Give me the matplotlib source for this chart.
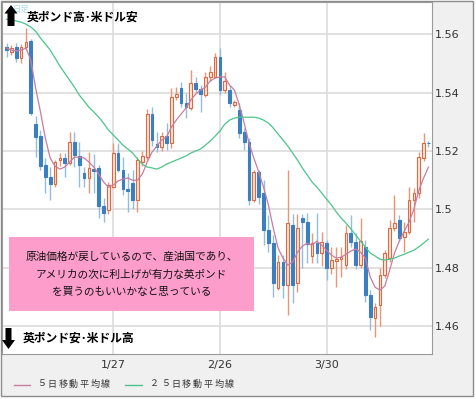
import matplotlib
matplotlib.use("Agg")
import matplotlib.pyplot as plt
from matplotlib.lines import Line2D
from matplotlib.patches import Polygon, Rectangle

W, H = 476, 399

# daily GBP/USD candles (open, high, low, close), one per trading day
opens = [
    1.5556, 1.5540, 1.5556, 1.5519, 1.5556, 1.5577, 1.5292, 1.5251, 1.5151, 1.5110,
    1.5087, 1.5169, 1.5176, 1.5158, 1.5230, 1.5183, 1.5124, 1.5107, 1.5140, 1.5141,
    1.5011, 1.4999, 1.5076, 1.5193, 1.5134, 1.5069, 1.5090, 1.5032, 1.5162, 1.5179,
    1.5327, 1.5224, 1.5213, 1.5251, 1.5227, 1.5385, 1.5416, 1.5364, 1.5347, 1.5433,
    1.5412, 1.5392, 1.5454, 1.5454, 1.5522, 1.5409, 1.5409, 1.5357, 1.5340, 1.5265,
    1.5230, 1.5031, 1.5127, 1.5055, 1.4928, 1.4884, 1.4730, 1.4819, 1.4740, 1.4945,
    1.4748, 1.4972, 1.4955, 1.4839, 1.4884, 1.4850, 1.4884, 1.4798, 1.4823, 1.4829,
    1.4808, 1.4918, 1.4887, 1.4808, 1.4870, 1.4705, 1.4627, 1.4671, 1.4774, 1.4833,
    1.4935, 1.4963, 1.4905, 1.4922, 1.5031, 1.5055, 1.5175, 1.5228,
]
highs = [
    1.5570, 1.5563, 1.5570, 1.5567, 1.5622, 1.5584, 1.5320, 1.5271, 1.5175, 1.5144,
    1.5168, 1.5193, 1.5193, 1.5266, 1.5266, 1.5230, 1.5144, 1.5196, 1.5190, 1.5152,
    1.5040, 1.5093, 1.5226, 1.5226, 1.5179, 1.5124, 1.5134, 1.5179, 1.5200, 1.5343,
    1.5351, 1.5265, 1.5266, 1.5296, 1.5416, 1.5419, 1.5436, 1.5399, 1.5478, 1.5454,
    1.5426, 1.5471, 1.5490, 1.5536, 1.5553, 1.5471, 1.5426, 1.5375, 1.5364, 1.5278,
    1.5244, 1.5134, 1.5134, 1.5100, 1.4980, 1.4911, 1.4843, 1.4843, 1.5134, 1.4983,
    1.4983, 1.4983, 1.4987, 1.4918, 1.4987, 1.4922, 1.4894, 1.4870, 1.4870, 1.4870,
    1.4945, 1.4980, 1.4920, 1.4970, 1.4894, 1.4722, 1.4678, 1.4798, 1.4860, 1.4963,
    1.5050, 1.4980, 1.4956, 1.5076, 1.5072, 1.5196, 1.5261, 1.5235,
]
lows = [
    1.5522, 1.5529, 1.5505, 1.5502, 1.5550, 1.5323, 1.5180, 1.5135, 1.5056, 1.5032,
    1.5076, 1.5150, 1.5110, 1.5151, 1.5145, 1.5075, 1.5076, 1.5055, 1.5055, 1.4970,
    1.4955, 1.4985, 1.5072, 1.5127, 1.5050, 1.4990, 1.5000, 1.4990, 1.5150, 1.5170,
    1.5217, 1.5196, 1.5200, 1.5203, 1.5210, 1.5375, 1.5351, 1.5313, 1.5340, 1.5400,
    1.5333, 1.5385, 1.5440, 1.5450, 1.5392, 1.5400, 1.5351, 1.5350, 1.5244, 1.5203,
    1.5014, 1.5024, 1.5020, 1.4877, 1.4853, 1.4700, 1.4723, 1.4696, 1.4637, 1.4680,
    1.4717, 1.4800, 1.4817, 1.4815, 1.4815, 1.4805, 1.4757, 1.4780, 1.4733, 1.4767,
    1.4795, 1.4870, 1.4795, 1.4800, 1.4681, 1.4585, 1.4562, 1.4600, 1.4765, 1.4820,
    1.4925, 1.4890, 1.4853, 1.4915, 1.4956, 1.5040, 1.5165, 1.5215,
]
closes = [
    1.5546, 1.5553, 1.5519, 1.5556, 1.5574, 1.5330, 1.5249, 1.5148, 1.5110, 1.5087,
    1.5162, 1.5176, 1.5158, 1.5230, 1.5186, 1.5152, 1.5107, 1.5141, 1.5130, 1.5011,
    1.4987, 1.5083, 1.5193, 1.5134, 1.5069, 1.5062, 1.5032, 1.5169, 1.5182, 1.5327,
    1.5237, 1.5213, 1.5251, 1.5227, 1.5385, 1.5395, 1.5364, 1.5351, 1.5433, 1.5412,
    1.5395, 1.5454, 1.5470, 1.5522, 1.5409, 1.5440, 1.5364, 1.5368, 1.5261, 1.5230,
    1.5031, 1.5127, 1.5041, 1.4928, 1.4884, 1.4746, 1.4819, 1.4740, 1.4952, 1.4740,
    1.4935, 1.4955, 1.4880, 1.4884, 1.4850, 1.4888, 1.4798, 1.4826, 1.4829, 1.4836,
    1.4918, 1.4887, 1.4808, 1.4890, 1.4705, 1.4630, 1.4665, 1.4774, 1.4849, 1.4935,
    1.4952, 1.4901, 1.4922, 1.5031, 1.5055, 1.5179, 1.5227, 1.5226,
]

# moving averages
ma5 = [
    1.5553, 1.5546, 1.5543, 1.5546, 1.5553, 1.5512, 1.5416, 1.5334, 1.5244, 1.5176,
    1.5148, 1.5138, 1.5145, 1.5162, 1.5179, 1.5179, 1.5176, 1.5162, 1.5145, 1.5121,
    1.5094, 1.5076, 1.5083, 1.5097, 1.5104, 1.5107, 1.5100, 1.5100, 1.5121, 1.5162,
    1.5196, 1.5217, 1.5238, 1.5248, 1.5282, 1.5306, 1.5327, 1.5347, 1.5375, 1.5395,
    1.5409, 1.5419, 1.5440, 1.5450, 1.5454, 1.5454, 1.5426, 1.5409, 1.5358, 1.5296,
    1.5227, 1.5176, 1.5128, 1.5076, 1.5015, 1.4936, 1.4867, 1.4833, 1.4809, 1.4819,
    1.4853, 1.4874, 1.4884, 1.4877, 1.4891, 1.4877, 1.4860, 1.4843, 1.4833, 1.4836,
    1.4846, 1.4857, 1.4864, 1.4853, 1.4833, 1.4768, 1.4733, 1.4723, 1.4737, 1.4791,
    1.4850, 1.4891, 1.4925, 1.4956, 1.5001, 1.5063, 1.5107, 1.5145,
]
ma25 = [
    1.5652, 1.5649, 1.5646, 1.5642, 1.5635, 1.5625, 1.5611, 1.5587, 1.5567, 1.5546,
    1.5519, 1.5491, 1.5467, 1.5443, 1.5419, 1.5392, 1.5371, 1.5350, 1.5334, 1.5316,
    1.5296, 1.5272, 1.5255, 1.5238, 1.5220, 1.5207, 1.5193, 1.5173, 1.5155, 1.5145,
    1.5142, 1.5138, 1.5145, 1.5155, 1.5162, 1.5169, 1.5176, 1.5183, 1.5193, 1.5200,
    1.5207, 1.5220, 1.5234, 1.5251, 1.5268, 1.5292, 1.5306, 1.5313, 1.5316, 1.5316,
    1.5316, 1.5316, 1.5313, 1.5306, 1.5296, 1.5279, 1.5258, 1.5238, 1.5217, 1.5193,
    1.5169, 1.5142, 1.5118, 1.5094, 1.5076, 1.5056, 1.5035, 1.5015, 1.4991, 1.4970,
    1.4953, 1.4933, 1.4912, 1.4891, 1.4871, 1.4850, 1.4840, 1.4829, 1.4826, 1.4829,
    1.4833, 1.4840, 1.4846, 1.4853, 1.4860, 1.4871, 1.4884, 1.4898,
]

date_ticks = [22, 44, 66]
date_labels = ["1/27", "2/26", "3/30"]
price_ticks = [1.46, 1.48, 1.50, 1.52, 1.54, 1.56]
price_labels = ["1.46", "1.48", "1.5", "1.52", "1.54", "1.56"]

label_up = "英ポンド高･米ドル安"
label_down = "英ポンド安･米ドル高"
comment_lines = [
    "原油価格が戻しているので、産油国であり、",
    "アメリカの次に利上げが有力な英ポンド",
    "を買うのもいいかなと思っている",
]
legend_labels = ["５日移動平均線", "２５日移動平均線"]

JP = ["Noto Sans CJK JP", "DejaVu Sans"]
UP_EDGE, UP_FACE, UP_WICK = "#e0683f", "#fce6de", "#eb9576"
DN_FACE, DN_WICK = "#3b7fc1", "#93bde0"
MA5_COLOR, MA25_COLOR = "#c97ca2", "#4cc58a"


def fx(x):
    return x / W


def fy(y):
    return 1 - y / H


def poly(points, **kw):
    return Polygon([(fx(x), fy(y)) for x, y in points], closed=True,
                   transform=fig.transFigure, **kw)


fig = plt.figure(figsize=(W / 100, H / 100), dpi=100)

# grey frame behind everything
fig.add_artist(Rectangle((fx(1), fy(396)), fx(473) - fx(1), fy(1) - fy(396),
                         transform=fig.transFigure, facecolor="#f0f0f0",
                         edgecolor="#8c8c8c", lw=1, zorder=-1))

ax = fig.add_axes([fx(1.7), fy(354), (432.3 - 1.7) / W, (354 - 1.7) / H])
ax.set_facecolor("white")

for i, (o, h, l, c) in enumerate(zip(opens, highs, lows, closes)):
    up = c >= o
    ax.vlines(i, l, h, colors=UP_WICK if up else DN_WICK, lw=1.0, zorder=2)
    ax.bar(i, max(abs(c - o), 0.0002), bottom=min(o, c), width=0.56,
           facecolor=UP_FACE if up else DN_FACE,
           edgecolor=UP_EDGE if up else DN_FACE, lw=0.8, zorder=3)

days = list(range(len(closes)))
ax.plot(days, ma5, color=MA5_COLOR, lw=0.9, zorder=4)
ax.plot(days, ma25, color=MA25_COLOR, lw=0.9, zorder=4)

ax.set_xlim(-1.0, 87.8)
ax.set_ylim(1.4504, 1.5712)
ax.set_xticks(date_ticks)
ax.set_xticklabels(date_labels)
ax.set_yticks(price_ticks)
ax.set_yticklabels(price_labels)
ax.yaxis.tick_right()
ax.set_axisbelow(True)
ax.grid(True, color="#dcdcdc", lw=1.2)
ax.tick_params(axis="both", length=0, labelsize=8, labelcolor="#333333")
ax.tick_params(axis="y", pad=2)
ax.tick_params(axis="x", pad=4)
for sp in ax.spines.values():
    sp.set_color("#9a9a9a")
    sp.set_linewidth(0.8)

# faint period label and direction captions
fig.text(fx(13), fy(9), "日足", family=JP, fontsize=6, color="#a8dcf2",
         va="center", ha="left", zorder=5)
fig.add_artist(poly([(11, 5), (17.5, 13.5), (14.5, 13.5), (14.5, 26),
                     (7.5, 26), (7.5, 13.5), (4.5, 13.5)],
                    facecolor="black", edgecolor="none", zorder=6))
fig.text(fx(26.5), fy(17), label_up, family=JP, fontsize=8.5, fontweight="bold",
         va="center", ha="left", zorder=6)

fig.add_artist(poly([(5.5, 328), (11.5, 328), (11.5, 340), (15, 340),
                     (8.5, 349), (2, 340), (5.5, 340)],
                    facecolor="black", edgecolor="none", zorder=6))
fig.text(fx(23), fy(338), label_down, family=JP, fontsize=8.5, fontweight="bold",
         va="center", ha="left", zorder=6)

# pink comment box
fig.add_artist(Rectangle((fx(9), fy(310.7)), fx(254) - fx(9), fy(237.3) - fy(310.7),
                         transform=fig.transFigure, facecolor="#fd9dcc",
                         edgecolor="none", zorder=5))
for k, line in enumerate(comment_lines):
    fig.text(fx(131.5), fy(257 + 17.3 * k), line, family=JP, fontsize=7.7,
             color="#111111", ha="center", va="center", zorder=6)

# legend along the bottom
for (x0, x1, tx), col, lab in zip([(14, 30, 37), (125, 142, 150)],
                                  [MA5_COLOR, MA25_COLOR], legend_labels):
    fig.add_artist(Line2D([fx(x0), fx(x1)], [fy(384.5), fy(384.5)],
                          transform=fig.transFigure, color=col, lw=1.0))
    for j, ch in enumerate(lab):
        fig.text(fx(tx + 10.7 * j), fy(384), ch, family=JP, fontsize=6.5,
                 color="#333333", ha="left", va="center")

fig.savefig("out.png", dpi=100)
